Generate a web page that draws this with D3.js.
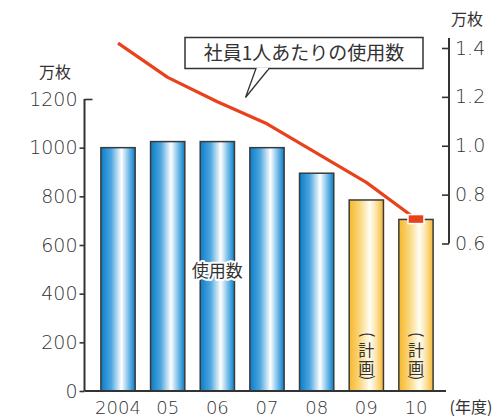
<!DOCTYPE html>
<html>
<head>
<meta charset="utf-8">
<script src="https://cdn.jsdelivr.net/npm/d3@7"></script>
<style>
  html, body { margin: 0; padding: 0; background: #fff; }
  svg { display: block; }
  text { fill: #333; }
</style>
</head>
<body>
<svg id="chart" width="497" height="418"></svg>
<script>
// Paper usage (万枚) per fiscal year, and usage per employee (万枚)
const years = ["2004", "05", "06", "07", "08", "09", "10"];
const usage = [1000, 1025, 1025, 1000, 895, 785, 705];
const planned = [false, false, false, false, false, true, true];
const perEmployee = [1.42, 1.28, 1.18, 1.09, 0.97, 0.85, 0.70];
const leftTicks = [0, 200, 400, 600, 800, 1000, 1200];
const rightTicks = [0.6, 0.8, 1.0, 1.2, 1.4];
const rightTickLabels = ["0.6", "0.8", "1.0", "1.2", "1.4"];

const numFont = "'DejaVu Sans', sans-serif";
const jpFont = "'Noto Sans CJK JP', sans-serif";
const numColor = "#1e1e1e";

const svg = d3.select("#chart");

const x = d3.scaleBand().domain(years).range([93.2, 440.8])
  .paddingInner(0.31).paddingOuter(0.155);
const yL = d3.scaleLinear().domain([0, 1200]).range([391, 99]);
const yR = d3.scaleLinear().domain([0.6, 1.4]).range([243.5, 48]);

// gradients
const defs = svg.append("defs");
function grad(id, stops) {
  const g = defs.append("linearGradient").attr("id", id)
    .attr("x1", "0%").attr("x2", "100%").attr("y1", "0%").attr("y2", "0%");
  stops.forEach(([o, c]) => g.append("stop").attr("offset", o).attr("stop-color", c));
}
grad("blueBar", [[0, "#0a7dc9"], [0.3, "#4ea7df"], [0.6, "#ffffff"], [0.8, "#7cbfe9"], [1, "#0a7dc9"]]);
grad("yellowBar", [[0, "#f6b82c"], [0.3, "#fad67a"], [0.6, "#fffef4"], [0.8, "#fde0a0"], [1, "#f6b930"]]);

// bars
svg.append("g").selectAll("rect").data(years).join("rect")
  .attr("x", d => x(d))
  .attr("y", (d, i) => yL(usage[i]))
  .attr("width", x.bandwidth())
  .attr("height", (d, i) => yL(0) - yL(usage[i]))
  .attr("fill", (d, i) => planned[i] ? "url(#yellowBar)" : "url(#blueBar)")
  .attr("stroke", "#3a3a3a")
  .attr("stroke-width", 1.5);

// left axis
const axL = svg.append("g").attr("transform", "translate(84.5,0)")
  .call(d3.axisLeft(yL).tickValues(leftTicks).tickSize(5).tickPadding(3).tickFormat(d3.format("d")));
axL.select(".domain").remove();
axL.selectAll(".tick line").attr("stroke", "#333").attr("stroke-width", 1.6)
  .attr("x2", d => d === 1200 ? 8 : -5);
axL.selectAll(".tick text").attr("font-family", numFont).attr("font-size", 19)
  .attr("font-weight", 200).attr("fill", numColor).attr("x", -7);
axL.append("line").attr("x1", 0).attr("x2", 0).attr("y1", yL(1200)).attr("y2", yL(0))
  .attr("stroke", "#333").attr("stroke-width", 2);

// baseline
svg.append("line").attr("x1", 84.5).attr("x2", 446).attr("y1", yL(0)).attr("y2", yL(0))
  .attr("stroke", "#333").attr("stroke-width", 2.2);

// right axis
const axR = svg.append("g").attr("transform", "translate(449,0)")
  .call(d3.axisRight(yR).tickValues(rightTicks).tickSize(0).tickPadding(6)
    .tickFormat((d, i) => rightTickLabels[i]));
axR.select(".domain").remove();
axR.selectAll(".tick line").attr("x2", -7).attr("stroke", "#333").attr("stroke-width", 1.6);
axR.selectAll(".tick text").attr("font-family", numFont).attr("font-size", 19)
  .attr("font-weight", 200).attr("fill", numColor);
axR.append("line").attr("x1", 0).attr("x2", 0).attr("y1", 38).attr("y2", yR(0.6))
  .attr("stroke", "#333").attr("stroke-width", 2);

// x labels
svg.append("g").selectAll("text").data(years).join("text")
  .attr("x", d => x(d) + x.bandwidth() / 2)
  .attr("y", 414)
  .attr("text-anchor", "middle")
  .attr("font-family", numFont).attr("font-size", 18)
  .attr("font-weight", 200).attr("fill", numColor)
  .text(d => d);

// units
svg.append("text").attr("x", 471).attr("y", 413).attr("text-anchor", "middle")
  .attr("font-family", jpFont).attr("font-size", 16).text("(年度)");
svg.append("text").attr("x", 55).attr("y", 78).attr("text-anchor", "middle")
  .attr("font-family", jpFont).attr("font-size", 16).text("万枚");
svg.append("text").attr("x", 467).attr("y", 25).attr("text-anchor", "middle")
  .attr("font-family", jpFont).attr("font-size", 16).text("万枚");

// per-employee line
const cx = d => x(d) + x.bandwidth() / 2;
const line = d3.line().x(d => cx(d[0])).y(d => yR(d[1]));
svg.append("path").datum(years.map((d, i) => [d, perEmployee[i]]))
  .attr("d", line).attr("fill", "none")
  .attr("stroke", "#e8411c").attr("stroke-width", 3.2)
  .attr("stroke-linejoin", "round");
const last = years.length - 1;
svg.append("rect")
  .attr("x", cx(years[last]) - 8).attr("y", yR(perEmployee[last]) - 4.5)
  .attr("width", 16).attr("height", 9)
  .attr("fill", "#e8411c").attr("stroke", "#fff").attr("stroke-width", 1.5);

// callout
const callout = svg.append("g");
callout.append("rect").attr("x", 185).attr("y", 37.5).attr("width", 238).attr("height", 31)
  .attr("fill", "#fff").attr("stroke", "#333").attr("stroke-width", 1.5);
callout.append("path").attr("d", "M256,68.5 L245.5,97.5 L269,68.5")
  .attr("fill", "#fff").attr("stroke", "#333").attr("stroke-width", 1.3);
callout.append("line").attr("x1", 257).attr("x2", 268).attr("y1", 68.5).attr("y2", 68.5)
  .attr("stroke", "#fff").attr("stroke-width", 2);
callout.append("text").attr("x", 304).attr("y", 60).attr("text-anchor", "middle")
  .attr("font-family", jpFont).attr("font-size", 19).text("社員1人あたりの使用数");

// series label
svg.append("text").attr("x", x("06") + x.bandwidth() / 2).attr("y", 277)
  .attr("text-anchor", "middle")
  .attr("font-family", jpFont).attr("font-size", 17)
  .attr("stroke", "#fff").attr("stroke-width", 4).attr("paint-order", "stroke")
  .attr("stroke-linejoin", "round")
  .text("使用数");

// planned markers: vertical "（計画）" set as one text with per-glyph rotation
years.forEach((d, i) => {
  if (!planned[i]) return;
  const c = cx(d);
  const t = svg.append("text")
    .attr("font-family", jpFont).attr("font-size", 16);
  t.append("tspan").attr("x", c - 4.5).attr("y", 332).attr("rotate", 90).text("(");
  t.append("tspan").attr("x", c).attr("y", 356).attr("text-anchor", "middle").text("計");
  t.append("tspan").attr("x", c).attr("y", 374).attr("text-anchor", "middle").text("画");
  t.append("tspan").attr("x", c - 4.5).attr("y", 375).attr("rotate", 90).text(")");
});
</script>
</body>
</html>
